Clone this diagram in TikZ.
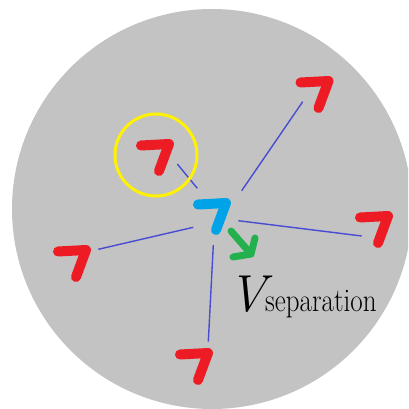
\documentclass[tikz,border=0pt]{standalone}
\usepackage{fontspec}
\usepackage{graphicx}
\definecolor{disc}{RGB}{195,195,195}
\definecolor{boidred}{RGB}{237,28,36}
\definecolor{boidblue}{RGB}{0,162,232}
\definecolor{boidgreen}{RGB}{34,177,76}
\definecolor{ringyellow}{RGB}{255,242,0}
\definecolor{linkblue}{RGB}{72,76,210}
\tikzset{
  boid/.pic={\draw[line width=10pt, line cap=round, line join=round, pic actions] (-28,1.5) -- (0,0) -- (-10,27);},
  link/.style={draw=linkblue, line width=1.4pt},
  velarrow/.style={draw=boidgreen, line width=7pt, line cap=round, line join=round}
}
\begin{document}
\begin{tikzpicture}[x=1pt,y=-1pt]
\useasboundingbox (0,0) rectangle (408,409);
\begin{scope}
\clip (0,0) rectangle (408,409);
\fill[disc] (212,209) circle[radius=200];
\end{scope}
% boid positions (corner of the 7)
\coordinate (bc) at (169,144);
\coordinate (bt) at (328.5,81);
\coordinate (br) at (388,216);
\coordinate (bl) at (86,250);
\coordinate (bb) at (208,353);
\coordinate (bs) at (226,203);
% link end points
\coordinate (c1) at (177.3,164); \coordinate (s1) at (197.3,188.3);
\coordinate (t1) at (302.7,101.7); \coordinate (s2) at (241.7,190.7);
\coordinate (r1) at (361.7,236); \coordinate (s3) at (238.3,220.7);
\coordinate (l1) at (98.3,249.3); \coordinate (s4) at (193.3,227.3);
\coordinate (d1) at (208.3,341.7); \coordinate (s5) at (213.3,245);
\draw[link] (c1) -- (s1);
\draw[link] (s2) -- (t1);
\draw[link] (s3) -- (r1);
\draw[link] (s4) -- (l1);
\draw[link] (s5) -- (d1);
% yellow ring
\node[draw=ringyellow, line width=3pt, circle, minimum size=82pt, inner sep=0pt] (ring) at (156,155) {};
% boids
\pic[draw=boidred] at (bc) {boid};
\pic[draw=boidred] at (bt) {boid};
\pic[draw=boidred] at (br) {boid};
\pic[draw=boidred] at (bl) {boid};
\pic[draw=boidred] at (bb) {boid};
\pic[draw=boidblue] at (bs) {boid};
% green velocity arrow
\coordinate (g0) at (231,231);
\coordinate (g1) at (251,254);
\coordinate (ga) at (255,238);
\coordinate (gb) at (233,257);
\draw[velarrow] (g0) -- (g1);
\draw[velarrow] (ga) -- (g1) -- (gb);
% label
\node[anchor=base west, inner sep=0pt] (vlab) at (228,311) {\fontsize{52}{60}\selectfont\itshape V};
\node[anchor=base west, inner sep=0pt] (vsub) at (265,311) {\scalebox{0.82}[1]{\fontsize{33}{36}\selectfont separation}};
\end{tikzpicture}
\end{document}
